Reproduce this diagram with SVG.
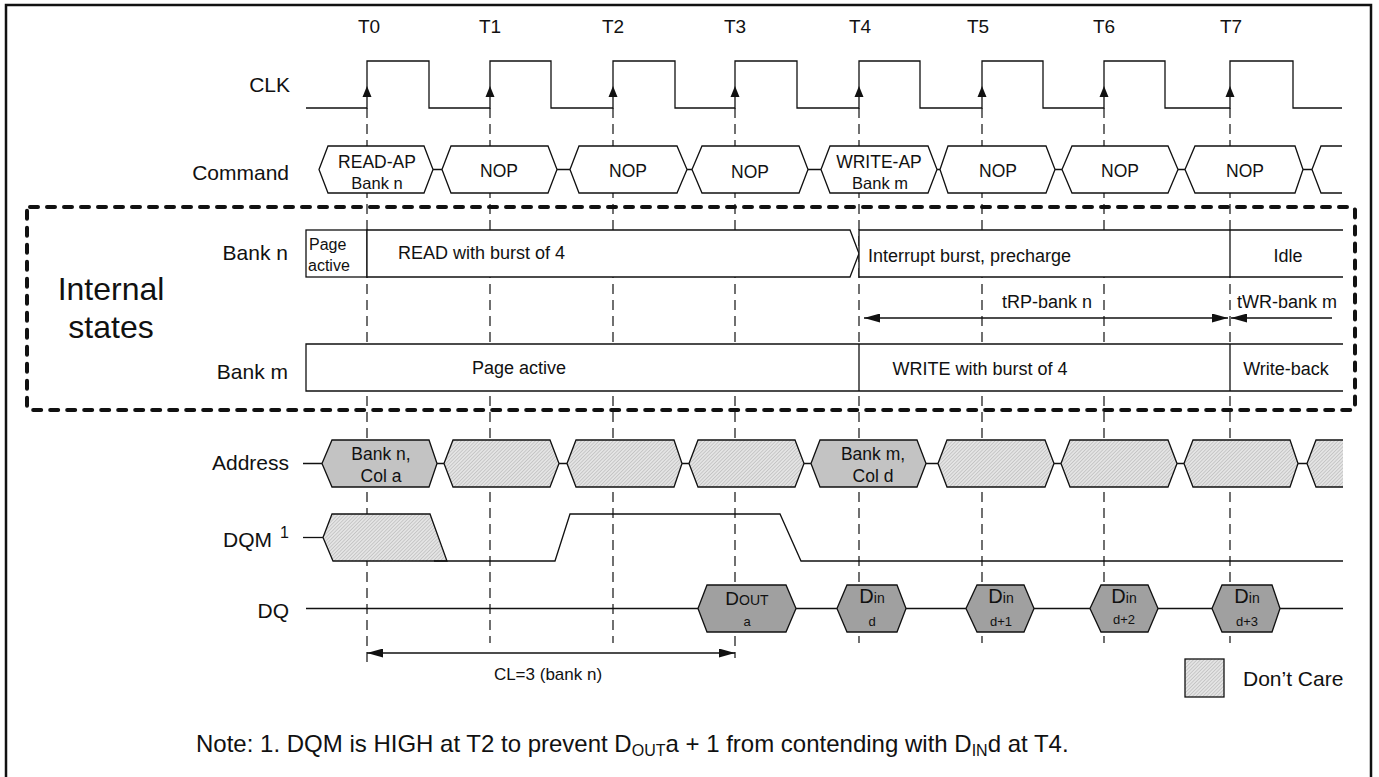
<svg xmlns="http://www.w3.org/2000/svg" width="1379" height="777" viewBox="0 0 1379 777">
<style>
text{font-family:"Liberation Sans",Arial,sans-serif;fill:#111}
.lbl{font-size:21px;text-anchor:end}
.tl{font-size:19px;text-anchor:middle}
.bx{font-size:17.5px;text-anchor:middle}
.st{font-size:18px}
.w{fill:none;stroke:#111;stroke-width:1.3}
.bus{fill:#fff;stroke:#111;stroke-width:1.3}
.dc{fill:url(#hatch);stroke:#111;stroke-width:1.3}
.sg{fill:#c3c3c3;stroke:#111;stroke-width:1.3}
.dq{fill:#a0a0a0;stroke:#111;stroke-width:1.3}
.dash{fill:none;stroke:#111;stroke-width:1.2;stroke-dasharray:10 6}
.dim{fill:none;stroke:#111;stroke-width:1.3}
.sm{font-size:13px;text-anchor:middle}
</style>
<defs>
<pattern id="hatch" patternUnits="userSpaceOnUse" width="2.5" height="2.5" patternTransform="rotate(45)">
<rect width="2.5" height="2.5" fill="#e4e4e4"/>
<line x1="0.4" y1="0" x2="0.4" y2="2.5" stroke="#c0c0c0" stroke-width="0.8"/>
</pattern>
<marker id="arr" viewBox="0 0 16 9" refX="16" refY="4.5" markerWidth="16" markerHeight="9" markerUnits="userSpaceOnUse" orient="auto-start-reverse">
<path d="M0,0 L16,4.5 L0,9 Z" fill="#111"/>
</marker>
<path id="ca" d="M0,86 L-4.5,97 L4.5,97 Z" fill="#111"/>
</defs>

<rect id="frame" x="6" y="5" width="1365" height="790" fill="#fff" stroke="#111" stroke-width="2.5"/>

<g id="connectors">
<line class="dash" x1="367" y1="108" x2="367" y2="666"/>
<line class="dash" x1="490" y1="108" x2="490" y2="643"/>
<line class="dash" x1="613" y1="108" x2="613" y2="643"/>
<line class="dash" x1="735" y1="108" x2="735" y2="658"/>
<line class="dash" x1="859" y1="108" x2="859" y2="643"/>
<line class="dash" x1="982" y1="108" x2="982" y2="643"/>
<line class="dash" x1="1104" y1="108" x2="1104" y2="643"/>
<line class="dash" x1="1230" y1="108" x2="1230" y2="643"/>
<line class="dim" x1="367" y1="653" x2="735" y2="653" marker-start="url(#arr)" marker-end="url(#arr)"/>
<line class="dim" x1="864" y1="318" x2="1228" y2="318" marker-start="url(#arr)" marker-end="url(#arr)"/>
<line class="dim" x1="1332" y1="318" x2="1231" y2="318" marker-end="url(#arr)"/>
</g>

<g id="time-labels">
<text class="tl" x="369" y="33">T0</text>
<text class="tl" x="490" y="33">T1</text>
<text class="tl" x="613" y="33">T2</text>
<text class="tl" x="735" y="33">T3</text>
<text class="tl" x="860" y="33">T4</text>
<text class="tl" x="978" y="33">T5</text>
<text class="tl" x="1104" y="33">T6</text>
<text class="tl" x="1231" y="33">T7</text>
</g>

<g id="signal-labels">
<text class="lbl" x="290" y="92">CLK</text>
<text class="lbl" x="289" y="180">Command</text>
<text class="lbl" x="288" y="260">Bank n</text>
<text class="lbl" x="288" y="379">Bank m</text>
<text class="lbl" x="289" y="470">Address</text>
<text class="lbl" x="272" y="547">DQM</text>
<text x="280" y="538" style="font-size:16px">1</text>
<text class="lbl" x="289" y="618">DQ</text>
</g>

<g id="clk">
<path class="w" d="M306,108 H367 V61 H429 V108 H490 V61 H551 V108 H613 V61 H675 V108 H735 V61 H797 V108 H859 V61 H920 V108 H982 V61 H1043 V108 H1104 V61 H1165 V108 H1230 V61 H1293 V108 H1342"/>
<use href="#ca" x="367"/><use href="#ca" x="490"/><use href="#ca" x="613"/><use href="#ca" x="735"/>
<use href="#ca" x="859"/><use href="#ca" x="982"/><use href="#ca" x="1104"/><use href="#ca" x="1230"/>
</g>

<g id="command">
<path class="w" d="M433,169.5 H442 M557,169.5 H570 M687,169.5 H692 M808,169.5 H821 M937,169.5 H940 M1055,169.5 H1062 M1178,169.5 H1185 M1303,169.5 H1312"/>
<g id="cmd-t0"><polygon class="bus" points="319,169.5 328,146 424,146 433,169.5 424,193 328,193"/><text class="bx" x="377" y="168">READ-AP</text><text class="bx" x="377" y="189" style="font-size:16.5px">Bank n</text></g>
<g id="cmd-t1"><polygon class="bus" points="442,169.5 451,146 548,146 557,169.5 548,193 451,193"/><text class="bx" x="499" y="177">NOP</text></g>
<g id="cmd-t2"><polygon class="bus" points="570,169.5 579,146 677,146 687,169.5 677,193 579,193"/><text class="bx" x="628" y="177">NOP</text></g>
<g id="cmd-t3"><polygon class="bus" points="692,169.5 702,146 799,146 808,169.5 799,193 702,193"/><text class="bx" x="750" y="178">NOP</text></g>
<g id="cmd-t4"><polygon class="bus" points="821,169.5 830,146 928,146 937,169.5 928,193 830,193"/><text class="bx" x="879" y="168">WRITE-AP</text><text class="bx" x="880" y="189" style="font-size:16.5px">Bank m</text></g>
<g id="cmd-t5"><polygon class="bus" points="940,169.5 948,146 1046,146 1055,169.5 1046,193 948,193"/><text class="bx" x="998" y="177">NOP</text></g>
<g id="cmd-t6"><polygon class="bus" points="1062,169.5 1072,146 1168,146 1178,169.5 1168,193 1072,193"/><text class="bx" x="1120" y="177">NOP</text></g>
<g id="cmd-t7"><polygon class="bus" points="1185,169.5 1195,146 1295,146 1303,169.5 1295,193 1195,193"/><text class="bx" x="1245" y="177">NOP</text></g>
<g id="cmd-t8"><polygon points="1312,169.5 1321,146 1342,146 1342,193 1321,193" fill="#fff"/><path class="w" d="M1342,146 H1321 L1312,169.5 L1321,193 H1342"/></g>
</g>

<g id="internal-states">
<rect x="27" y="207" width="1328" height="203" rx="3" fill="none" stroke="#111" stroke-width="4" stroke-dasharray="8 9" stroke-linecap="round"/>
<text x="111" y="300" style="font-size:32px;text-anchor:middle">Internal</text>
<text x="111" y="338" style="font-size:32px;text-anchor:middle">states</text>
</g>

<g id="bank-n">
<g id="bankn-page"><rect class="bus" x="306" y="230" width="61" height="47"/><text x="309" y="250" style="font-size:16px">Page</text><text x="308" y="271" style="font-size:16px">active</text></g>
<g id="bankn-read"><path class="bus" d="M367,230 H850 L859,253.5 L850,277 H367 Z"/><text class="st" x="398" y="259">READ with burst of 4</text></g>
<g id="bankn-interrupt"><path class="bus" d="M1343,230 H859 V277 H1343"/><rect x="860" y="231" width="483" height="45" fill="#fff"/><text class="st" x="868" y="262">Interrupt burst, precharge</text></g>
<g id="bankn-idle"><line class="w" x1="1230" y1="230" x2="1230" y2="277"/><text class="st" x="1288" y="262" style="text-anchor:middle">Idle</text></g>
</g>

<g id="timing-labels">
<text class="st" x="1047" y="308" style="text-anchor:middle">tRP-bank n</text>
<text class="st" x="1287" y="308" style="text-anchor:middle">tWR-bank m</text>
</g>

<g id="bank-m">
<rect x="306" y="344" width="1037" height="47" fill="#fff"/>
<path class="w" d="M1343,344 H306 V391 H1343 M859,344 V391 M1230,344 V391"/>
<g id="bankm-page"><text class="st" x="519" y="374" style="text-anchor:middle">Page active</text></g>
<g id="bankm-write"><text class="st" x="980" y="375" style="text-anchor:middle">WRITE with burst of 4</text></g>
<g id="bankm-writeback"><text class="st" x="1286" y="375" style="text-anchor:middle">Write-back</text></g>
</g>

<g id="address">
<path class="w" d="M303,463.5 H322 M437,463.5 H444 M559,463.5 H567 M682,463.5 H689 M804,463.5 H811 M926,463.5 H938 M1054,463.5 H1061 M1177,463.5 H1184 M1298,463.5 H1307"/>
<g id="addr-t0"><polygon class="sg" points="322,463.5 332,440 429,440 437,463.5 429,487 332,487"/><text class="bx" x="381" y="460">Bank n,</text><text class="bx" x="381" y="482">Col a</text></g>
<polygon id="addr-t1" class="dc" points="444,463.5 453,440 550,440 559,463.5 550,487 453,487"/>
<polygon id="addr-t2" class="dc" points="567,463.5 576,440 674,440 682,463.5 674,487 576,487"/>
<polygon id="addr-t3" class="dc" points="689,463.5 698,440 795,440 804,463.5 795,487 698,487"/>
<g id="addr-t4"><polygon class="sg" points="811,463.5 820,440 917,440 926,463.5 917,487 820,487"/><text class="bx" x="873" y="460">Bank m,</text><text class="bx" x="873" y="482">Col d</text></g>
<polygon id="addr-t5" class="dc" points="938,463.5 947,440 1045,440 1054,463.5 1045,487 947,487"/>
<polygon id="addr-t6" class="dc" points="1061,463.5 1070,440 1168,440 1177,463.5 1168,487 1070,487"/>
<polygon id="addr-t7" class="dc" points="1184,463.5 1193,440 1290,440 1298,463.5 1290,487 1193,487"/>
<g id="addr-t8"><polygon points="1307,463.5 1316,440 1343,440 1343,487 1316,487" fill="url(#hatch)"/><path class="w" d="M1343,440 H1316 L1307,463.5 L1316,487 H1343"/></g>
</g>

<g id="dqm">
<path class="w" d="M303,537.5 H323"/>
<polygon class="dc" points="323,537.5 332,514 430,514 447,561 333,561"/>
<path class="w" d="M434,561 H555 L570,514 H780 L801,561 H1343"/>
</g>

<g id="dq">
<line class="w" x1="306" y1="608.5" x2="1343" y2="608.5"/>
<g id="dq-dout"><polygon class="dq" points="698,608.5 707,585 786,585 796,608.5 786,632 707,632"/><text x="747" y="605" style="text-anchor:middle"><tspan style="font-size:19px">D</tspan><tspan style="font-size:14px">OUT</tspan></text><text class="sm" x="747" y="626">a</text></g>
<g id="dq-d0"><polygon class="dq" points="837,608.5 847,585 897,585 906,608.5 897,632 847,632"/><text x="872" y="603" style="text-anchor:middle"><tspan style="font-size:20px">D</tspan><tspan style="font-size:14px">in</tspan></text><text class="sm" x="872" y="626">d</text></g>
<g id="dq-d1"><polygon class="dq" points="966,608.5 977,585 1024,585 1034,608.5 1024,632 977,632"/><text x="1001" y="603" style="text-anchor:middle"><tspan style="font-size:20px">D</tspan><tspan style="font-size:14px">in</tspan></text><text class="sm" x="1001" y="626">d+1</text></g>
<g id="dq-d2"><polygon class="dq" points="1090,608.5 1101,585 1148,585 1158,608.5 1148,632 1101,632"/><text x="1124" y="603" style="text-anchor:middle"><tspan style="font-size:20px">D</tspan><tspan style="font-size:14px">in</tspan></text><text class="sm" x="1124" y="624">d+2</text></g>
<g id="dq-d3"><polygon class="dq" points="1212,608.5 1222,585 1272,585 1280,608.5 1272,632 1222,632"/><text x="1247" y="603" style="text-anchor:middle"><tspan style="font-size:20px">D</tspan><tspan style="font-size:14px">in</tspan></text><text class="sm" x="1247" y="626">d+3</text></g>
</g>

<g id="cl-label"><text x="548" y="680" style="font-size:17px;text-anchor:middle">CL=3 (bank n)</text></g>

<g id="legend">
<rect class="dc" x="1185" y="659" width="39" height="38"/>
<text x="1243" y="686" style="font-size:21px">Don’t Care</text>
</g>

<g id="note">
<text x="196" y="752" style="font-size:24px">Note: 1. DQM is HIGH at T2 to prevent D<tspan style="font-size:16px" dy="4">OUT</tspan><tspan dy="-4">a + 1 from contending with D</tspan><tspan style="font-size:16px" dy="4">IN</tspan><tspan dy="-4">d at T4.</tspan></text>
</g>
</svg>
